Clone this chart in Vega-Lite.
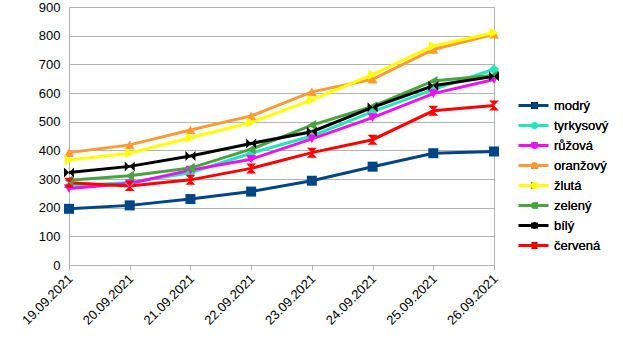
{
 "$schema": "https://vega.github.io/schema/vega-lite/v6.json",
 "width": 425, "height": 258,
 "autosize": "none",
 "padding": {"left": 69, "top": 7, "right": 129, "bottom": 86},
 "config": {"font": "Liberation Sans", "view": {"stroke": "#b3b3b3"}},
 "data": {"values": [
  {"date":"19.09.2021","series":"modrý","value":196},{"date":"20.09.2021","series":"modrý","value":208},{"date":"21.09.2021","series":"modrý","value":230},{"date":"22.09.2021","series":"modrý","value":256},{"date":"23.09.2021","series":"modrý","value":294},{"date":"24.09.2021","series":"modrý","value":343},{"date":"25.09.2021","series":"modrý","value":390},{"date":"26.09.2021","series":"modrý","value":396},
  {"date":"19.09.2021","series":"tyrkysový","value":276},{"date":"20.09.2021","series":"tyrkysový","value":288},{"date":"21.09.2021","series":"tyrkysový","value":322},{"date":"22.09.2021","series":"tyrkysový","value":390},{"date":"23.09.2021","series":"tyrkysový","value":450},{"date":"24.09.2021","series":"tyrkysový","value":535},{"date":"25.09.2021","series":"tyrkysový","value":612},{"date":"26.09.2021","series":"tyrkysový","value":683},
  {"date":"19.09.2021","series":"růžová","value":267},{"date":"20.09.2021","series":"růžová","value":284},{"date":"21.09.2021","series":"růžová","value":331},{"date":"22.09.2021","series":"růžová","value":369},{"date":"23.09.2021","series":"růžová","value":440},{"date":"24.09.2021","series":"růžová","value":514},{"date":"25.09.2021","series":"růžová","value":598},{"date":"26.09.2021","series":"růžová","value":647},
  {"date":"19.09.2021","series":"oranžový","value":392},{"date":"20.09.2021","series":"oranžový","value":419},{"date":"21.09.2021","series":"oranžový","value":471},{"date":"22.09.2021","series":"oranžový","value":520},{"date":"23.09.2021","series":"oranžový","value":604},{"date":"24.09.2021","series":"oranžový","value":648},{"date":"25.09.2021","series":"oranžový","value":752},{"date":"26.09.2021","series":"oranžový","value":805},
  {"date":"19.09.2021","series":"žlutá","value":366},{"date":"20.09.2021","series":"žlutá","value":390},{"date":"21.09.2021","series":"žlutá","value":444},{"date":"22.09.2021","series":"žlutá","value":497},{"date":"23.09.2021","series":"žlutá","value":576},{"date":"24.09.2021","series":"žlutá","value":664},{"date":"25.09.2021","series":"žlutá","value":764},{"date":"26.09.2021","series":"žlutá","value":810},
  {"date":"19.09.2021","series":"zelený","value":296},{"date":"20.09.2021","series":"zelený","value":311},{"date":"21.09.2021","series":"zelený","value":338},{"date":"22.09.2021","series":"zelený","value":404},{"date":"23.09.2021","series":"zelený","value":488},{"date":"24.09.2021","series":"zelený","value":553},{"date":"25.09.2021","series":"zelený","value":642},{"date":"26.09.2021","series":"zelený","value":662},
  {"date":"19.09.2021","series":"bílý","value":323},{"date":"20.09.2021","series":"bílý","value":344},{"date":"21.09.2021","series":"bílý","value":380},{"date":"22.09.2021","series":"bílý","value":424},{"date":"23.09.2021","series":"bílý","value":465},{"date":"24.09.2021","series":"bílý","value":550},{"date":"25.09.2021","series":"bílý","value":625},{"date":"26.09.2021","series":"bílý","value":658},
  {"date":"19.09.2021","series":"červená","value":287},{"date":"20.09.2021","series":"červená","value":276},{"date":"21.09.2021","series":"červená","value":297},{"date":"22.09.2021","series":"červená","value":337},{"date":"23.09.2021","series":"červená","value":392},{"date":"24.09.2021","series":"červená","value":437},{"date":"25.09.2021","series":"červená","value":538},{"date":"26.09.2021","series":"červená","value":556}
 ]},
 "encoding": {
  "x": {"field": "date", "type": "ordinal", "title": null, "scale": {"type": "point", "padding": 0},
        "axis": {"labelAngle": -45, "labelFontSize": 13, "labelColor": "#000", "labelOffset": -3, "domainColor": "#b3b3b3", "tickColor": "#b3b3b3", "tickSize": 5, "labelPadding": 2, "grid": false}},
  "y": {"field": "value", "type": "quantitative", "title": null, "scale": {"domain": [0, 900], "nice": false},
        "axis": {"values": [0,100,200,300,400,500,600,700,800,900], "labelFontSize": 13, "labelColor": "#000", "ticks": false, "domain": false, "labelPadding": 9, "gridColor": "#b3b3b3", "gridOpacity": 1}}
 },
 "layer": [
  {"mark": {"type": "line", "strokeWidth": 3},
   "encoding": {"color": {"field": "series", "type": "nominal", "sort": ["modrý","tyrkysový","růžová","oranžový","žlutá","zelený","bílý","červená"],
     "scale": {"domain": ["modrý","tyrkysový","růžová","oranžový","žlutá","zelený","bílý","červená"], "range": ["#004586","#22e5bb","#ee10ee","#ff9933","#ffff00","#47a440","#000000","#ff0000"]},
     "legend": {"title": null, "orient": "none", "legendX": 448, "legendY": 92, "symbolType": "stroke", "symbolSize": 900, "symbolStrokeWidth": 3, "labelExpr": "''", "labelFontSize": 13, "labelOffset": 5, "rowPadding": 6, "clipHeight": 13}}}},
  {"mark": {"type": "point", "filled": true, "size": 100, "opacity": 1},
   "encoding": {
    "color": {"field": "series", "type": "nominal", "sort": ["modrý","tyrkysový","růžová","oranžový","žlutá","zelený","bílý","červená"],
     "legend": {"title": null, "orient": "none", "legendX": 459, "legendY": 92, "symbolSize": 49, "labelFontSize": 13, "labelColor": "#000", "labelOffset": 13, "rowPadding": 6, "clipHeight": 13}},
    "shape": {"field": "series", "type": "nominal", "sort": ["modrý","tyrkysový","růžová","oranžový","žlutá","zelený","bílý","červená"],
     "scale": {"domain": ["modrý","tyrkysový","růžová","oranžový","žlutá","zelený","bílý","červená"], "range": ["square","diamond","triangle-down","triangle-up","triangle-right","triangle-left","M-1,-1L1,1L1,-1L-1,1Z","M-1,-1L1,-1L-1,1L1,1Z"]},
     "legend": {"title": null, "orient": "none", "legendX": 459, "legendY": 92, "symbolSize": 49, "labelFontSize": 13, "labelColor": "#000", "labelOffset": 13, "rowPadding": 6, "clipHeight": 13}}
   }}
 ],
 "resolve": {"legend": {"color": "independent"}}
}
